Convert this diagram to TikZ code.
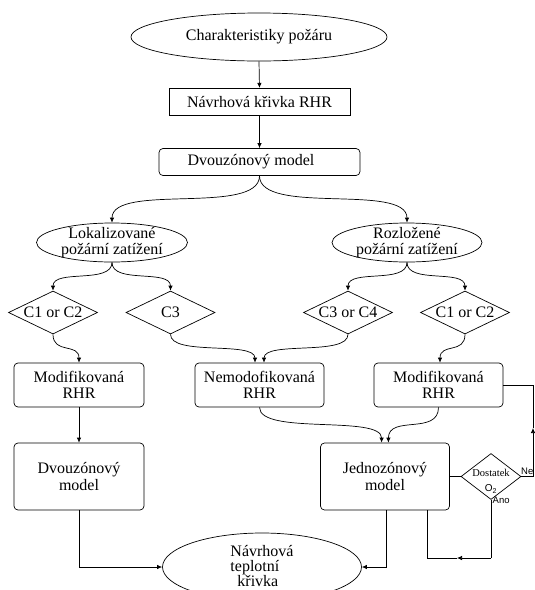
\documentclass[tikz,border=0pt]{standalone}
\usepackage{fontspec}
\setmainfont{Liberation Serif}
\newfontfamily\arialf{Liberation Sans}
\usetikzlibrary{shapes.geometric,arrows.meta}
\begin{document}
\begin{tikzpicture}[x=1pt,y=-1pt,
  every node/.style={font=\fontsize{16}{16.5}\selectfont},
  ln/.style={line width=0.7pt},
  arr/.style={ln,-{Latex[length=5pt,width=4.5pt]}},
  rbox/.style={draw,ln,rounded corners=4pt,align=center,inner sep=0pt},
  sbox/.style={draw,ln,align=center,inner sep=0pt},
  ell/.style={draw,ln,ellipse,inner sep=0pt},
  dia/.style={draw,ln,diamond,inner sep=0pt},
  txt/.style={align=center,inner sep=0pt},
  lbl/.style={inner sep=0pt,font=\arialf\fontsize{9.5}{10}\selectfont},
]
\useasboundingbox (0,0) rectangle (535,590);
\clip (0,0) rectangle (535,590);
% nodes
\node[ell,minimum width=256,minimum height=48] (char) at (259,37) {Charakteristiky požáru};
\node[sbox,minimum width=181,minimum height=27.5] (nav) at (259.5,102) {Návrhová křivka RHR};
\node[rbox,minimum width=201,minimum height=27] (dz) at (259.5,162) {\hspace*{-17pt}Dvouzónový model};
\node[ell,minimum width=151,minimum height=39] (lok) at (112,242.5) {};
\node[txt] (loktxt) at (lok) {Lokalizované\\požární zatížení};
\node[ell,minimum width=150,minimum height=39] (roz) at (407,242.5) {};
\node[txt] (roztxt) at (roz) {Rozložené\\požární zatížení};
\node[dia,minimum width=89,minimum height=43] (d1) at (53,312.5) {};
\node[txt] (d1t) at (d1) {C1 or C2};
\node[dia,minimum width=89,minimum height=43] (d2) at (170.5,312.5) {};
\node[txt] (d2t) at (d2) {C3};
\node[dia,minimum width=89,minimum height=43] (d3) at (348,312.5) {};
\node[txt] (d3t) at (d3) {C3 or C4};
\node[dia,minimum width=89,minimum height=43] (d4) at (465,312.5) {};
\node[txt] (d4t) at (d4) {C1 or C2};
\node[rbox,minimum width=130,minimum height=44] (mL) at (79,385) {Modifikovaná\\RHR};
\node[rbox,minimum width=129,minimum height=44] (nm) at (259.5,385) {Nemodofikovaná\\RHR};
\node[rbox,minimum width=129,minimum height=44] (mR) at (438.5,385) {Modifikovaná\\RHR};
\node[rbox,minimum width=130,minimum height=67] (dzL) at (79,476.5) {Dvouzónový\\model};
\node[rbox,minimum width=129,minimum height=67] (jd) at (385,476.5) {Jednozónový\\model};
\node[dia,minimum width=60,minimum height=46] (ost) at (491,476.5) {};
\node[inner sep=0pt,font=\fontsize{10.5}{11}\selectfont] (ostt1) at (491,472.5) {Dostatek};
\node[inner sep=0pt,font=\arialf\fontsize{10}{11}\selectfont] (ostt2) at (491,489) {O\textsubscript{2}};
\node[ell,minimum width=199,minimum height=68] (bot) at (262,567) {};
\node[txt,align=left,font=\fontsize{16}{15}\selectfont] (bottxt) at (262,566) {Návrhová\\teplotní\\\hspace*{7pt}křivka};
\node[lbl,anchor=south west] (ne) at (521,475) {Ne};
\node[lbl,anchor=north west] (ano) at (492.5,497) {Ano};
% connectors
\draw[arr] (char.south) -- (nav.north);
\draw[arr] (nav.south) -- (dz.north);
\draw[arr] (dz.south) .. controls ([yshift=-40pt]dz.south) and ([yshift=40pt]lok.north) .. (lok.north);
\draw[arr] (dz.south) .. controls ([yshift=-40pt]dz.south) and ([yshift=40pt]roz.north) .. (roz.north);
\draw[arr] (lok.south) .. controls ([yshift=-22pt]lok.south) and ([yshift=22pt]d1.north) .. (d1.north);
\draw[arr] (lok.south) .. controls ([yshift=-22pt]lok.south) and ([yshift=22pt]d2.north) .. (d2.north);
\draw[arr] (roz.south) .. controls ([yshift=-22pt]roz.south) and ([yshift=22pt]d3.north) .. (d3.north);
\draw[arr] (roz.south) .. controls ([yshift=-22pt]roz.south) and ([yshift=22pt]d4.north) .. (d4.north);
\draw[arr] (d1.south) .. controls ([yshift=-20pt]d1.south) and ([yshift=20pt]mL.north) .. (mL.north);
\draw[arr] (d2.south) .. controls ([yshift=-22pt]d2.south) and ([yshift=22pt,xshift=-4.5pt]nm.north) .. ([xshift=-4.5pt]nm.north);
\draw[arr] (d3.south) .. controls ([yshift=-22pt]d3.south) and ([yshift=22pt,xshift=4.5pt]nm.north) .. ([xshift=4.5pt]nm.north);
\draw[arr] (d4.south) .. controls ([yshift=-20pt]d4.south) and ([yshift=20pt,xshift=1.5pt]mR.north) .. ([xshift=1.5pt]mR.north);
\draw[arr] (mL.south) -- (dzL.north);
\draw[arr] (nm.south) .. controls ([yshift=-28pt]nm.south) and ([yshift=28pt,xshift=-3.4pt]jd.north) .. ([xshift=-3.4pt]jd.north);
\draw[arr] (mR.south) .. controls ([yshift=-28pt]mR.south) and ([yshift=28pt,xshift=3.4pt]jd.north) .. ([xshift=3.4pt]jd.north);
\draw[ln] (jd.east) -- (ost.west);
% Ne loop
\coordinate (ne1) at (533,476.5);
\coordinate (ne2) at (533,428);
\coordinate (ne3) at (533,385);
\draw[ln] (ost.east) -- (ne1);
\draw[arr] (ne1) -- (ne2);
\draw[ln] (ne2) -- (ne3) -- (mR.east);
% Ano loop
\coordinate (an1) at (491,558);
\coordinate (an2) at (457,558);
\coordinate (an3) at (427.6,558);
\draw[ln] (ost.south) -- (an1);
\draw[arr] (an1) -- (an2);
\draw[ln] (an2) -- (an3) -- (an3 |- jd.south);
% to bottom ellipse
\draw[arr] ([xshift=1.5pt]jd.south) |- (bot.east);
\draw[arr] (dzL.south) |- (bot.west);
\end{tikzpicture}
\end{document}
